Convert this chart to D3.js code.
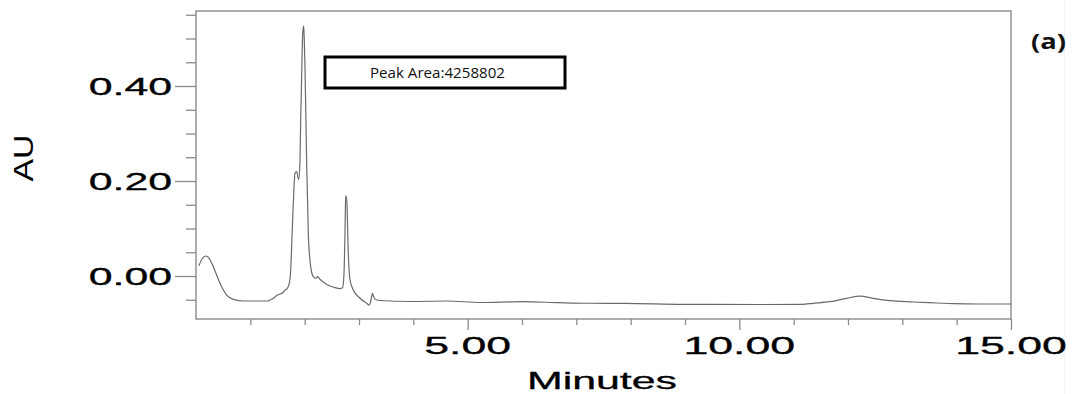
<!DOCTYPE html>
<html>
<head>
<meta charset="utf-8">
<script src="https://cdn.jsdelivr.net/npm/d3@7"></script>
<style>
  html, body { margin: 0; padding: 0; background: #fff; }
  svg { display: block; }
</style>
</head>
<body>
<svg id="chart" width="1079" height="394"></svg>
<script>
// ---- data (minutes, AU) ----
const times = [0.055,0.110,0.184,0.239,0.318,0.387,0.442,0.565,0.687,0.871,1.331,1.362,1.423,1.485,1.546,1.596,1.638,1.680,1.717,1.743,1.767,1.791,1.822,1.853,1.890,1.914,1.927,1.951,1.964,1.982,1.993,2.006,2.038,2.067,2.111,2.159,2.209,2.233,2.282,2.374,2.466,2.558,2.650,2.700,2.724,2.742,2.755,2.774,2.803,2.835,2.895,3.019,3.142,3.184,3.208,3.227,3.249,3.276,3.326,3.387,3.939,4.614,5.227,6.019,6.700,7.252,7.887,8.982,10.381,11.154,11.356,11.669,11.977,12.221,12.461,12.774,13.197,13.633,13.933,14.430,15.0];
const absorbance = [0.0217,0.0358,0.0421,0.0379,0.0196,0.0000,-0.0154,-0.0400,-0.0491,-0.0526,-0.0526,-0.0505,-0.0469,-0.0411,-0.0379,-0.0352,-0.0295,-0.0259,-0.0154,0.0126,0.0827,0.1531,0.2162,0.2196,0.2032,0.2442,0.3284,0.4547,0.5109,0.5269,0.4968,0.4406,0.2301,0.0899,0.0196,-0.0015,-0.0048,-0.0015,-0.0069,-0.0154,-0.0211,-0.0246,-0.0267,-0.0238,0.0057,0.0905,0.1691,0.1600,0.0478,-0.0084,-0.0295,-0.0469,-0.0575,-0.0611,-0.0568,-0.0463,-0.0364,-0.0457,-0.0505,-0.0516,-0.0537,-0.0526,-0.0558,-0.0541,-0.0562,-0.0573,-0.0575,-0.0596,-0.0600,-0.0596,-0.0575,-0.0541,-0.0469,-0.0425,-0.0469,-0.0520,-0.0547,-0.0568,-0.0583,-0.0589,-0.0589];

const yMajorTicks = [0.00, 0.20, 0.40];
const yMajorLabels = ["0.00", "0.20", "0.40"];
const yMinorTicks = [-0.05,0.05,0.10,0.15,0.25,0.30,0.35,0.45,0.50,0.55];
const xMajorTicks = [5, 10, 15];
const xMajorLabels = ["5.00", "10.00", "15.00"];
const xMinorTicks = [1,2,3,4,6,7,8,9,11,12,13,14];
const xTitle = "Minutes";
const yTitle = "AU";
const annotationText = "Peak Area:4258802";
const panelLabel = "(a)";

// ---- layout ----
const svg = d3.select("#chart");
const L = 196, R = 1011, T = 11, B = 319;
const x = d3.scaleLinear().domain([0, 15]).range([L, R]);
const y = d3.scaleLinear().domain([-0.0905, 0.5579]).range([B, T]);
const axisColor = "#8a8a8a";
const font = "'Liberation Sans', Arial, sans-serif";

// faint artifact line at right
svg.append("line").attr("x1", 1064.5).attr("x2", 1064.5).attr("y1", 0).attr("y2", 394)
  .attr("stroke", "#f3f3f3").attr("stroke-width", 1);

// y minor ticks
const yMinor = svg.append("g").attr("transform", `translate(${L},0)`)
  .call(d3.axisLeft(y).tickValues(yMinorTicks).tickSize(10).tickFormat(""));
// y major ticks
const yMajor = svg.append("g").attr("transform", `translate(${L},0)`)
  .call(d3.axisLeft(y).tickValues(yMajorTicks).tickSize(21).tickFormat(""));
// x minor ticks
const xMinor = svg.append("g").attr("transform", `translate(0,${B})`)
  .call(d3.axisBottom(x).tickValues(xMinorTicks).tickSize(6).tickFormat(""));
const xMajor = svg.append("g").attr("transform", `translate(0,${B})`)
  .call(d3.axisBottom(x).tickValues(xMajorTicks).tickSize(11).tickFormat(""));

[yMinor, yMajor, xMinor, xMajor].forEach(g => {
  g.select(".domain").remove();
  g.selectAll(".tick line").attr("stroke", axisColor).attr("stroke-width", 1.3);
});

// frame
svg.append("rect").attr("x", L).attr("y", T).attr("width", R - L).attr("height", B - T)
  .attr("fill", "none").attr("stroke", axisColor).attr("stroke-width", 1.4);

// stretched text helper
function stretched(sel, factor) {
  sel.each(function() {
    const w = this.getComputedTextLength();
    d3.select(this).attr("textLength", w * factor).attr("lengthAdjust", "spacingAndGlyphs");
  });
}

// y tick labels
svg.append("g").selectAll("text").data(yMajorTicks).join("text")
  .attr("x", 172).attr("y", d => y(d) + 9)
  .attr("text-anchor", "end")
  .attr("font-family", font).attr("font-size", 23).attr("fill", "#000")
  .attr("stroke", "#000").attr("stroke-width", 0.3)
  .text((d, i) => yMajorLabels[i])
  .call(stretched, 1.86);

// x tick labels
svg.append("g").selectAll("text").data(xMajorTicks).join("text")
  .attr("x", d => x(d)).attr("y", 353.5)
  .attr("text-anchor", "middle")
  .attr("font-family", font).attr("font-size", 23).attr("fill", "#000")
  .attr("stroke", "#000").attr("stroke-width", 0.3)
  .text((d, i) => xMajorLabels[i])
  .call(stretched, 1.94);

// x title
svg.append("text").attr("x", 602).attr("y", 388.5).attr("text-anchor", "middle")
  .attr("font-family", font).attr("font-size", 24).attr("fill", "#000")
  .attr("stroke", "#000").attr("stroke-width", 0.3)
  .text(xTitle).attr("textLength", 150).attr("lengthAdjust", "spacingAndGlyphs");

// y title
svg.append("text").attr("transform", "translate(33,158) rotate(-90)")
  .attr("text-anchor", "middle")
  .attr("font-family", font).attr("font-size", 28).attr("fill", "#000")
  .text(yTitle).attr("textLength", 47).attr("lengthAdjust", "spacingAndGlyphs");

// trace
const data = times.map((t, i) => [t, absorbance[i]]);
const line = d3.line().x(d => x(d[0])).y(d => y(d[1])).curve(d3.curveMonotoneX);
svg.append("path").datum(data).attr("d", line)
  .attr("fill", "none").attr("stroke", "#6a6a6a").attr("stroke-width", 1.2)
  .attr("stroke-linejoin", "round");

// annotation box
svg.append("rect").attr("x", 325).attr("y", 57).attr("width", 240).attr("height", 31)
  .attr("fill", "#fff").attr("stroke", "#000").attr("stroke-width", 3);
svg.append("text").attr("x", 370).attr("y", 78)
  .attr("font-family", "'Open Sans', 'Noto Sans', sans-serif").attr("font-size", 14).attr("fill", "#111")
  .text(annotationText).attr("textLength", 135).attr("lengthAdjust", "spacingAndGlyphs");

// panel label
svg.append("text").attr("x", 1031).attr("y", 48.5)
  .attr("font-family", "'Open Sans', 'Noto Sans', sans-serif").attr("font-size", 22).attr("font-weight", "bold").attr("fill", "#111")
  .text(panelLabel).attr("textLength", 35).attr("lengthAdjust", "spacingAndGlyphs");
</script>
</body>
</html>
